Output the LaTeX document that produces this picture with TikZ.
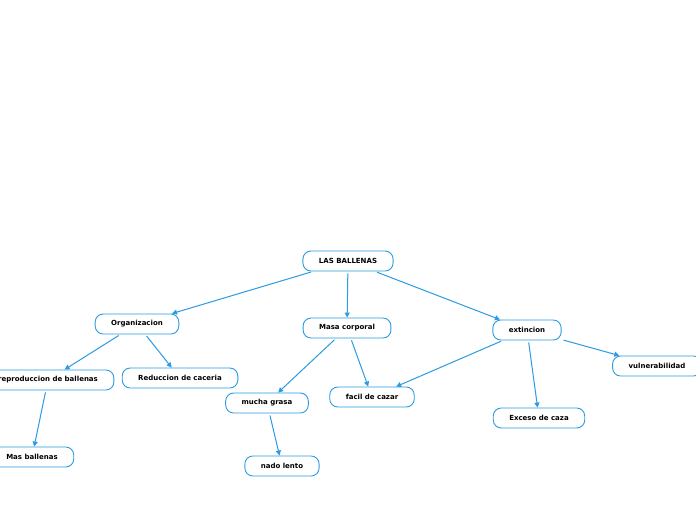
\documentclass[tikz,border=0pt]{standalone}
\usepackage{fontspec}
\setmainfont{DejaVu Sans}
\usetikzlibrary{arrows.meta}
\definecolor{mapblue}{RGB}{43,155,226}
\tikzset{topic/.style={rectangle,draw=mapblue,fill=white,line width=0.9pt,rounded corners=8pt,inner xsep=16pt,inner ysep=0pt,minimum height=20pt,font=\fontsize{7}{8}\selectfont\bfseries},link/.style={draw=mapblue,line width=1pt,-{Triangle[width=5pt,length=5pt]},shorten <=2pt}}

\begin{document}
\begin{tikzpicture}[x=1pt,y=-1pt]
\fill[white] (0,0) rectangle (696,520);
\useasboundingbox (0,0) rectangle (696,520);
\node[topic] (root) at (348,261) {LAS BALLENAS};
\node[topic] (org) at (137,324) {Organizacion};
\node[topic] (masa) at (347,328) {Masa corporal};
\node[topic] (ext) at (527,330) {extincion};
\node[topic] (repro) at (48,380) {reproduccion de ballenas};
\node[topic] (reduc) at (180,378) {Reduccion de caceria};
\node[topic] (grasa) at (267,403) {mucha grasa};
\node[topic] (facil) at (372,397) {facil de cazar};
\node[topic] (vuln) at (657,366) {vulnerabilidad};
\node[topic] (masball) at (32,457) {Mas ballenas};
\node[topic] (exceso) at (539,418) {Exceso de caza};
\node[topic] (nado) at (282,466) {nado lento};
% links
\draw[link] (root) -- (org);
\draw[link] (root) -- (masa);
\draw[link] (root) -- (ext);
\draw[link] (org) -- (repro);
\draw[link] (org) -- (reduc);
\draw[link] (repro) -- (masball);
\draw[link] (masa) -- (grasa);
\draw[link] (masa) -- (facil);
\draw[link] (grasa) -- (nado);
\draw[link] (ext) -- (facil);
\draw[link] (ext) -- (exceso);
\draw[link] (ext) -- (vuln);
\end{tikzpicture}
\end{document}
